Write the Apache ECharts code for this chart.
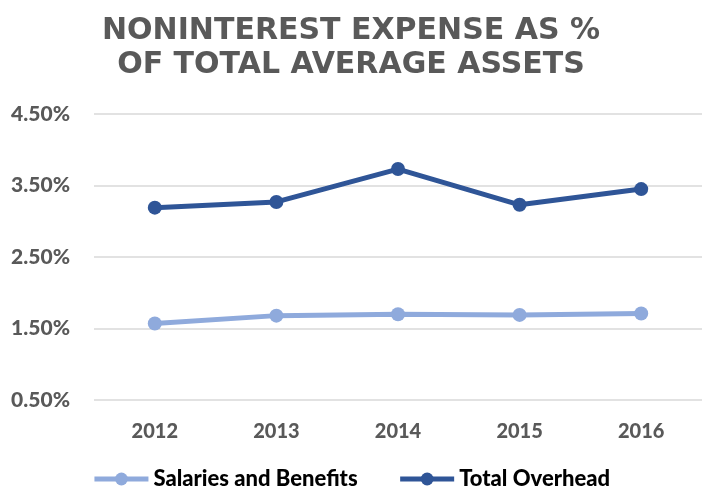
<!DOCTYPE html>
<html>
<head>
<meta charset="utf-8">
<script src="https://cdn.jsdelivr.net/npm/echarts@6/dist/echarts.min.js"></script>
<style>
  html, body { margin: 0; padding: 0; background: #fff; }
  #box { width: 702px; height: 489px; }
</style>
</head>
<body>
<div id="box"></div>
<script>
var years = ["2012", "2013", "2014", "2015", "2016"];
var salaries = [1.57, 1.68, 1.70, 1.69, 1.71];
var overhead = [3.19, 3.27, 3.73, 3.23, 3.45];
var yTicks = [0.5, 1.5, 2.5, 3.5, 4.5];

var labelFont = "Lato, 'Open Sans', sans-serif";

var myChart = echarts.init(document.getElementById("box"));
var option = {
  animation: false,
  title: {
    text: "NONINTEREST EXPENSE AS %\nOF TOTAL AVERAGE ASSETS",
    left: "center",
    top: 9,
    textStyle: {
      fontFamily: "'DejaVu Sans', Verdana, sans-serif",
      fontWeight: "bold",
      fontSize: 30,
      lineHeight: 34,
      color: "#595959"
    }
  },
  legend: {
    top: 463,
    left: "center",
    itemWidth: 54,
    itemHeight: 16,
    itemGap: 40,
    lineStyle: { width: 5 },
    textStyle: {
      fontFamily: labelFont,
      fontWeight: 900,
      fontSize: 22,
      color: "#000"
    },
    data: ["Salaries and Benefits", "Total Overhead"]
  },
  grid: {
    left: 94,
    right: 0,
    top: 114,
    bottom: 89,
    containLabel: false
  },
  xAxis: {
    type: "category",
    data: years,
    boundaryGap: true,
    axisLine: { show: false },
    axisTick: { show: false },
    axisLabel: {
      margin: 22,
      fontFamily: labelFont,
      fontWeight: 900,
      fontSize: 20,
      color: "#595959"
    }
  },
  yAxis: {
    type: "value",
    min: yTicks[0],
    max: yTicks[yTicks.length - 1],
    interval: 1,
    axisLine: { show: false },
    axisTick: { show: false },
    splitLine: { lineStyle: { color: "#D9D9D9", width: 1.5 } },
    axisLabel: {
      margin: 24,
      fontFamily: labelFont,
      fontWeight: 900,
      fontSize: 21,
      color: "#595959",
      formatter: function (v) { return v.toFixed(2) + "%"; }
    }
  },
  series: [
    {
      name: "Salaries and Benefits",
      type: "line",
      data: salaries,
      symbol: "circle",
      symbolSize: 14,
      color: "#8FAADC",
      lineStyle: { width: 5 }
    },
    {
      name: "Total Overhead",
      type: "line",
      data: overhead,
      symbol: "circle",
      symbolSize: 14,
      color: "#2F5597",
      lineStyle: { width: 5 }
    }
  ]
};
myChart.setOption(option);
</script>
</body>
</html>
